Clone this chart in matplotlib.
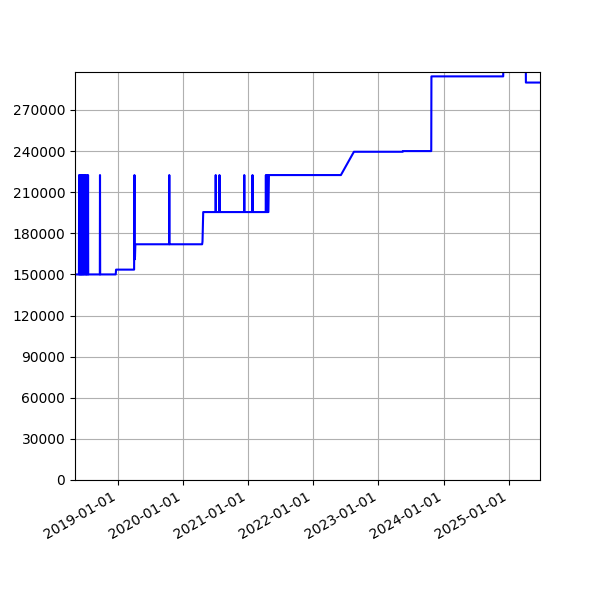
import matplotlib
matplotlib.use("Agg")
import matplotlib.pyplot as plt
import matplotlib.dates as mdates
from matplotlib.ticker import MultipleLocator
import pandas as pd

# Breakpoints of the series (date, value)
dates = [
    "2018-05-08",
    "2018-05-30", "2018-05-31", "2018-06-01",
    "2018-06-05", "2018-06-06", "2018-06-07",
    "2018-06-11", "2018-06-12", "2018-06-13",
    "2018-06-17", "2018-06-18", "2018-06-19",
    "2018-06-25", "2018-06-26", "2018-06-27",
    "2018-07-03", "2018-07-04", "2018-07-05",
    "2018-07-11", "2018-07-12", "2018-07-13",
    "2018-07-19", "2018-07-20", "2018-07-21",
    "2018-09-24", "2018-09-25", "2018-09-26",
    "2018-12-22", "2018-12-24",
    "2019-04-04", "2019-04-06", "2019-04-07", "2019-04-08", "2019-04-09", "2019-04-11",
    "2019-10-17", "2019-10-18", "2019-10-19",
    "2020-04-19", "2020-04-21", "2020-04-25",
    "2020-07-03", "2020-07-04", "2020-07-05",
    "2020-07-24", "2020-07-25", "2020-07-26",
    "2020-12-10", "2020-12-11", "2020-12-12",
    "2021-01-25", "2021-01-26", "2021-01-27",
    "2021-04-10", "2021-04-11", "2021-04-12",
    "2021-04-15", "2021-04-16", "2021-04-17",
    "2021-04-20", "2021-04-21", "2021-04-22",
    "2021-04-25", "2021-04-28",
    "2022-06-05", "2022-08-17",
    "2023-05-17", "2023-05-18",
    "2023-10-24", "2023-10-25",
    "2024-11-30", "2024-12-01",
    "2025-04-05", "2025-04-06",
    "2025-06-24",
]
values = [
    150000,
    150000, 222500, 150000,
    150000, 222500, 150000,
    150000, 222500, 150000,
    150000, 222500, 150000,
    150000, 222500, 150000,
    150000, 222500, 150000,
    150000, 222500, 150000,
    150000, 222500, 150000,
    150000, 222500, 150000,
    150000, 153500,
    153500, 222500, 161000, 168000, 163000, 172000,
    172000, 222500, 172000,
    172000, 174000, 195500,
    195500, 222500, 195500,
    195500, 222500, 195500,
    195500, 222500, 195500,
    195500, 222500, 195500,
    195500, 222500, 195500,
    195500, 222500, 195500,
    195500, 222500, 195500,
    195500, 222500,
    222500, 239500,
    239500, 240000,
    240000, 294500,
    294500, 320000,
    320000, 290000,
    290000,
]

x = pd.to_datetime(dates)

fig, ax = plt.subplots(figsize=(6, 6), dpi=100)
ax.plot(x, values, color="blue")
ax.set_xlim(x[0], x[-1])
ax.set_ylim(0, 297700)
ax.yaxis.set_major_locator(MultipleLocator(30000))
ax.xaxis.set_major_locator(mdates.YearLocator())
ax.xaxis.set_major_formatter(mdates.DateFormatter("%Y-%m-%d"))
ax.grid(True)
fig.autofmt_xdate()
fig.savefig("out.png", dpi=100)
